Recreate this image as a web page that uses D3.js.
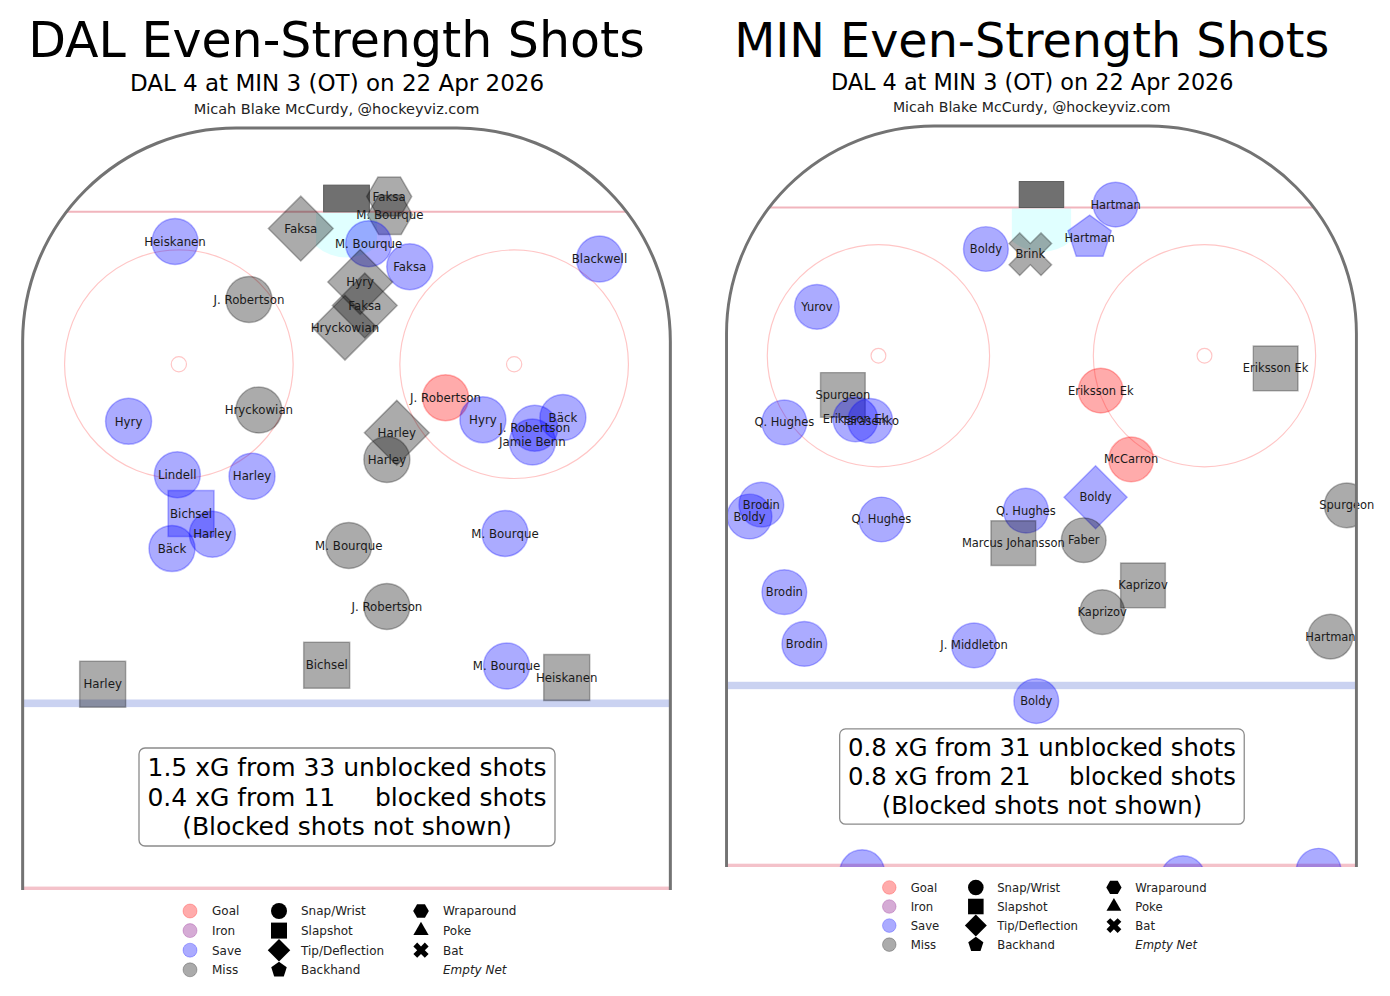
<!DOCTYPE html>
<html>
<head>
<meta charset="utf-8">
<script src="https://cdnjs.cloudflare.com/ajax/libs/d3/7.8.5/d3.min.js"></script>
<style>
body { margin: 0; background: #fff; }
svg { font-family: "DejaVu Sans", sans-serif; }
</style>
</head>
<body>
<script>
// Shot locations in feet: x across the ice (0 = middle), y from the centre red line
var dalNames  = ["Faksa", "Faksa", "M. Bourque", "M. Bourque", "Faksa", "Hyry", "Faksa", "Hryckowian",
                 "Heiskanen", "Blackwell", "J. Robertson", "Hryckowian", "Hyry", "Lindell", "Harley", "Bichsel",
                 "Harley", "Bäck", "J. Robertson", "Hyry", "Bäck", "J. Robertson", "Jamie Benn", "Harley",
                 "Harley", "M. Bourque", "M. Bourque", "J. Robertson", "Bichsel", "Harley", "M. Bourque", "Heiskanen"];
var dalX      = [-6.0, 5.6, 5.7, 2.9, 8.3, 1.8, 2.4, -0.2,
                 -22.5, 33.2, -12.8, -11.5, -28.6, -22.2, -12.4, -20.4,
                 -17.6, -22.9, 13.0, 17.9, 28.4, 24.7, 24.4, 6.6,
                 5.3, 0.3, 20.8, 5.3, -2.6, -32.0, 21.0, 28.9];
var dalY      = [86.8, 91.0, 88.6, 84.8, 81.8, 79.8, 76.7, 73.8,
                 85.1, 82.8, 77.5, 63.0, 61.5, 54.5, 54.3, 49.4,
                 46.7, 44.8, 64.6, 61.7, 62.0, 60.6, 58.8, 60.0,
                 56.5, 45.2, 46.8, 37.2, 29.5, 27.0, 29.4, 27.9];
var dalType   = ["tip", "wrap", "wrap", "snap", "snap", "tip", "tip", "tip",
                 "snap", "snap", "snap", "snap", "snap", "snap", "snap", "slap",
                 "snap", "snap", "snap", "snap", "snap", "snap", "snap", "tip",
                 "snap", "snap", "snap", "snap", "slap", "slap", "snap", "slap"];
var dalResult = ["Miss", "Miss", "Miss", "Save", "Save", "Miss", "Miss", "Miss",
                 "Save", "Save", "Miss", "Miss", "Save", "Save", "Save", "Save",
                 "Save", "Save", "Goal", "Save", "Save", "Save", "Save", "Miss",
                 "Miss", "Miss", "Save", "Miss", "Miss", "Miss", "Save", "Miss"];

var minNames  = ["Hartman", "Hartman", "Boldy", "Brink", "Yurov", "Spurgeon", "Eriksson Ek", "Tarasenko",
                 "Q. Hughes", "Eriksson Ek", "Eriksson Ek", "McCarron", "Boldy", "Q. Hughes", "Faber", "Marcus Johansson",
                 "Kaprizov", "Kaprizov", "Q. Hughes", "Brodin", "Boldy", "Spurgeon", "Brodin", "Brodin",
                 "J. Middleton", "Hartman", "Boldy", "", "", ""];
var minX      = [10.0, 6.5, -7.5, -1.5, -30.3, -26.8, -25.1, -23.1,
                 -34.7, 8.0, 31.6, 12.1, 7.3, -2.1, 5.7, -3.8,
                 13.7, 8.2, -21.6, -37.8, -39.4, 41.2, -34.7, -32.0,
                 -9.1, 39.0, -0.7, -24.2, 19.1, 37.4];
var minY      = [89.4, 84.9, 83.4, 82.7, 75.6, 63.7, 60.4, 60.2,
                 60.0, 64.3, 67.3, 55.0, 49.9, 48.1, 44.1, 43.7,
                 38.0, 34.4, 46.9, 48.9, 47.3, 48.8, 37.1, 30.1,
                 29.9, 31.1, 22.4, -0.7, -1.5, -0.5];
var minType   = ["snap", "backhand", "snap", "bat", "snap", "slap", "snap", "snap",
                 "snap", "snap", "slap", "snap", "tip", "snap", "snap", "slap",
                 "slap", "snap", "snap", "snap", "snap", "snap", "snap", "snap",
                 "snap", "snap", "snap", "snap", "snap", "snap"];
var minResult = ["Save", "Save", "Save", "Miss", "Save", "Miss", "Save", "Save",
                 "Save", "Goal", "Miss", "Goal", "Save", "Save", "Miss", "Miss",
                 "Miss", "Miss", "Save", "Save", "Save", "Miss", "Save", "Save",
                 "Save", "Miss", "Save", "Save", "Save", "Save"];

var titles    = ["DAL Even-Strength Shots", "MIN Even-Strength Shots"];
var subtitle  = "DAL 4 at MIN 3 (OT) on 22 Apr 2026";
var credit    = "Micah Blake McCurdy, @hockeyviz.com";
var dalBox    = ["1.5 xG from 33 unblocked shots", "0.4 xG from 11     blocked shots", "(Blocked shots not shown)"];
var minBox    = ["0.8 xG from 31 unblocked shots", "0.8 xG from 21     blocked shots", "(Blocked shots not shown)"];

var legendResults = ["Goal", "Iron", "Save", "Miss"];
var legendTypes1  = ["Snap/Wrist", "Slapshot", "Tip/Deflection", "Backhand"];
var legendTypes2  = ["Wraparound", "Poke", "Bat"];
var typeKeys1     = ["snap", "slap", "tip", "backhand"];
var typeKeys2     = ["wrap", "poke", "bat"];

var resultColor = {Goal: "red", Iron: "purple", Save: "blue", Miss: "black"};
var K = 7.62; // px per foot in the left panel

var svg = d3.select("body").append("svg")
    .attr("width", 1390)
    .attr("height", 996);

function polygon(n, R, start) {
    var pts = [];
    for (var i = 0; i < n; i++) {
        var a = start + i * 2 * Math.PI / n;
        pts.push([R * Math.cos(a), R * Math.sin(a)]);
    }
    return "M" + pts.map(p => p[0].toFixed(2) + "," + p[1].toFixed(2)).join("L") + "Z";
}

// marker outline centred on 0,0, s = half size
function shapePath(type, s) {
    if (type === "snap") {
        return "M" + s + ",0A" + s + "," + s + " 0 1,1 " + (-s) + ",0A" + s + "," + s + " 0 1,1 " + s + ",0Z";
    }
    if (type === "slap") return polygon(4, s * Math.SQRT2, Math.PI / 4);
    if (type === "tip") return polygon(4, s * 1.41, 0);
    if (type === "backhand") return polygon(5, s * 1.02, -Math.PI / 2);
    if (type === "wrap") return polygon(6, s * 0.98, 0);
    if (type === "poke") return polygon(3, s * 1.1, -Math.PI / 2);
    if (type === "bat") {
        var L = s * 1.01, w = L / 3;
        var plus = [[w, w], [L, w], [L, -w], [w, -w], [w, -L], [-w, -L], [-w, -w], [-L, -w],
                    [-L, w], [-w, w], [-w, L], [w, L]];
        var c = Math.SQRT1_2;
        return "M" + plus.map(p => ((p[0] - p[1]) * c).toFixed(2) + "," + ((p[0] + p[1]) * c).toFixed(2)).join("L") + "Z";
    }
}

function drawPanel(id, title, boxLines, names, xs, ys, types, results, tx, ty, s) {
    var g = svg.append("g").attr("transform", `translate(${tx},${ty}) scale(${s})`);

    var x = d3.scaleLinear().domain([-42.5, 42.5]).range([346.5 - 42.5 * K, 346.5 + 42.5 * K]);
    var y = d3.scaleLinear().domain([0, 100]).range([890, 890 - 100 * K]);
    var r = 28 * K;

    // titles
    g.append("text").attr("x", 336.5).attr("y", 57).attr("text-anchor", "middle")
        .attr("font-size", 49).text(title);
    g.append("text").attr("x", 337).attr("y", 91).attr("text-anchor", "middle")
        .attr("font-size", 23).text(subtitle);
    g.append("text").attr("x", 336.5).attr("y", 114).attr("text-anchor", "middle")
        .attr("font-size", 14.5).attr("fill", "#222").text(credit);

    // boards outline
    var p = d3.path();
    p.moveTo(x(-42.5), y(0));
    p.lineTo(x(-42.5), y(72));
    p.arc(x(-14.5), y(72), r, Math.PI, 1.5 * Math.PI, false);
    p.lineTo(x(14.5), y(100));
    p.arc(x(14.5), y(72), r, 1.5 * Math.PI, 2 * Math.PI, false);
    p.lineTo(x(42.5), y(0));
    var boards = p.toString();

    g.append("clipPath").attr("id", "clip-" + id)
        .append("path").attr("d", boards + "Z");

    var ice = g.append("g").attr("clip-path", `url(#clip-${id})`);

    // crease
    var cy = 89 - Math.sqrt(36 - 16);
    ice.append("path")
        .attr("d", `M${x(-4)},${y(89)}L${x(-4)},${y(cy)}A${6 * K},${6 * K} 0 0,0 ${x(4)},${y(cy)}L${x(4)},${y(89)}Z`)
        .attr("fill", "#e0ffff");

    // goal line
    var gx = 14.5 + Math.sqrt(28 * 28 - 17 * 17);
    ice.append("line").attr("x1", x(-gx)).attr("x2", x(gx)).attr("y1", y(89)).attr("y2", y(89))
        .attr("stroke", "#f1b5bd").attr("stroke-width", 2);

    // blue line and centre line
    ice.append("rect").attr("x", x(-42.5)).attr("width", x(42.5) - x(-42.5))
        .attr("y", y(25)).attr("height", y(24) - y(25)).attr("fill", "#cad2f1");
    ice.append("rect").attr("x", x(-42.5)).attr("width", x(42.5) - x(-42.5))
        .attr("y", y(0.45)).attr("height", y(0) - y(0.45)).attr("fill", "#f4c2ca");

    // faceoff circles
    [-22, 22].forEach(function(fx) {
        ice.append("circle").attr("cx", x(fx)).attr("cy", y(69)).attr("r", 15 * K)
            .attr("fill", "none").attr("stroke", "#ffc6c6").attr("stroke-width", 1.2);
        ice.append("circle").attr("cx", x(fx)).attr("cy", y(69)).attr("r", 1 * K)
            .attr("fill", "none").attr("stroke", "#ffc6c6").attr("stroke-width", 1.2);
    });

    // net
    ice.append("rect").attr("x", x(-3)).attr("width", x(3) - x(-3))
        .attr("y", y(92.5)).attr("height", y(89) - y(92.5))
        .attr("fill", "#707070").attr("stroke", "#5a5a5a").attr("stroke-width", 1);

    var shots = names.map((n, i) => ({name: n, x: xs[i], y: ys[i], type: types[i], result: results[i]}));

    ice.selectAll("path.shot")
        .data(shots)
        .enter()
        .append("path")
        .attr("class", "shot")
        .attr("transform", d => `translate(${x(d.x)},${y(d.y)})`)
        .attr("d", d => shapePath(d.type, 23))
        .attr("fill", d => resultColor[d.result])
        .attr("fill-opacity", 0.33)
        .attr("stroke", d => resultColor[d.result])
        .attr("stroke-opacity", 0.28)
        .attr("stroke-width", 1.5);

    g.selectAll("text.lbl")
        .data(shots.filter(d => d.name !== ""))
        .enter()
        .append("text")
        .attr("class", "lbl")
        .attr("x", d => x(d.x))
        .attr("y", d => y(d.y))
        .attr("dy", "0.35em")
        .attr("text-anchor", "middle")
        .attr("font-size", 11.8)
        .attr("fill", "#1a1a1a")
        .text(d => d.name);

    g.append("path").attr("d", boards)
        .attr("fill", "none").attr("stroke", "#737373").attr("stroke-width", 3);

    // summary box
    g.append("rect").attr("x", 139).attr("y", 748).attr("width", 416).attr("height", 98)
        .attr("rx", 6).attr("fill", "#fff").attr("stroke", "#8a8a8a").attr("stroke-width", 1.3);
    g.selectAll("text.box")
        .data(boxLines)
        .enter()
        .append("text")
        .attr("class", "box")
        .attr("x", 347)
        .attr("y", (d, i) => 767 + i * 29.5)
        .attr("dy", "0.36em")
        .attr("text-anchor", "middle")
        .attr("font-size", 25)
        .style("white-space", "pre")
        .text(d => d);

    // legend
    var rowY = i => 911 + i * 19.6;
    var leg = g.append("g").attr("font-size", 12).attr("fill", "#222");
    legendResults.forEach(function(lab, i) {
        leg.append("circle").attr("cx", 190).attr("cy", rowY(i)).attr("r", 7)
            .attr("fill", resultColor[lab]).attr("fill-opacity", 0.33)
            .attr("stroke", resultColor[lab]).attr("stroke-opacity", 0.25).attr("stroke-width", 1);
        leg.append("text").attr("x", 212).attr("y", rowY(i)).attr("dy", "0.36em").text(lab);
    });
    legendTypes1.forEach(function(lab, i) {
        leg.append("path").attr("transform", `translate(279,${rowY(i)})`)
            .attr("d", shapePath(typeKeys1[i], 8)).attr("fill", "#000");
        leg.append("text").attr("x", 301).attr("y", rowY(i)).attr("dy", "0.36em").text(lab);
    });
    legendTypes2.forEach(function(lab, i) {
        leg.append("path").attr("transform", `translate(421,${rowY(i)})`)
            .attr("d", shapePath(typeKeys2[i], 8)).attr("fill", "#000");
        leg.append("text").attr("x", 443).attr("y", rowY(i)).attr("dy", "0.36em").text(lab);
    });
    leg.append("text").attr("x", 443).attr("y", rowY(3)).attr("dy", "0.36em")
        .attr("font-style", "italic").text("Empty Net");
}

drawPanel("dal", titles[0], dalBox, dalNames, dalX, dalY, dalType, dalResult, 0, 0, 1);
drawPanel("min", titles[1], minBox, minNames, minX, minY, minType, minResult, 704.5, 1.5, 0.9725);
</script>
</body>
</html>
